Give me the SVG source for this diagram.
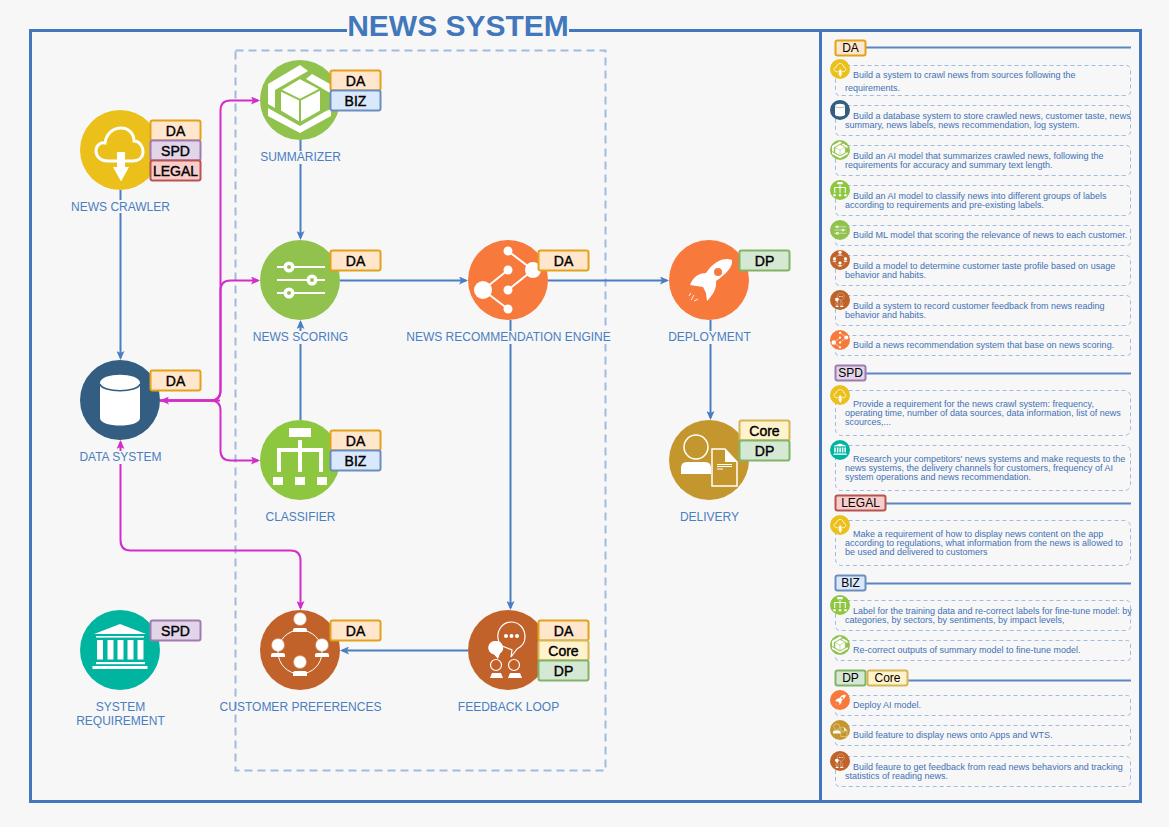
<svg xmlns="http://www.w3.org/2000/svg" width="1169" height="827" viewBox="0 0 1169 827">
<style>
text{font-family:"Liberation Sans",Arial,sans-serif}
.lb{font-size:12px;fill:#4A7EC2;text-anchor:middle}
.bg{fill:#F7F7F7}
.bt{font-size:14px;fill:#000;stroke:#000;stroke-width:.4;text-anchor:middle}
.ht{font-size:12px;fill:#000;text-anchor:middle}
.it{font-size:9px;fill:#4271B5}
.ib{fill:none;stroke:#A0BBE0;stroke-width:1;stroke-dasharray:4 3}
.hl{fill:none;stroke:#5B88C4;stroke-width:2}
.c{fill:none;stroke-width:2}
.bl{stroke:#4A7EC2}
.mg{stroke:#D42CC8}
.DA{fill:#FFE6CC;stroke:#E3A21A;stroke-width:2}
.SPD{fill:#E1D5E7;stroke:#9F7BB1;stroke-width:2}
.LEGAL{fill:#F8CECC;stroke:#B85450;stroke-width:2}
.BIZ{fill:#DAE8FC;stroke:#6C8EBF;stroke-width:2}
.DP{fill:#D5E8D4;stroke:#82B366;stroke-width:2}
.Core{fill:#FFF2CC;stroke:#D6B656;stroke-width:2}
.w{fill:#fff}
.s{fill:none;stroke:#fff}
</style>
<defs>
<marker id="ab" viewBox="0 0 9 8" refX="7" refY="4" markerWidth="9" markerHeight="8" markerUnits="userSpaceOnUse" orient="auto"><path d="M0 0L9 4L0 8L2 4Z" fill="#4A7EC2"/></marker>
<marker id="am" viewBox="0 0 9 8" refX="7" refY="4" markerWidth="9" markerHeight="8" markerUnits="userSpaceOnUse" orient="auto"><path d="M0 0L9 4L0 8L2 4Z" fill="#D42CC8"/></marker>
<g id="i-crawler"><circle r="40" fill="#EBC01B"/>
<path class="s" stroke-width="3" d="M-12 11C-20 11-24 6-24 1C-24-5-19-8-15-7C-14-16-7-22 1-22C9-22 14-16 14-9C20-9 23-3 23 2C23 8 18 11 12 11Z"/>
<path class="w" d="M-3 2H5V17H9L1 31.500L-7 17H-3Z"/></g>
<g id="i-data"><circle r="40" fill="#335D81"/>
<path class="w" d="M-20-17C-20-28 20-28 20-17V18C20 28-20 28-20 18Z"/>
<path fill="none" stroke="#335D81" stroke-width="1.500" d="M-20-16C-18-7 18-7 20-16"/></g>
<g id="i-req"><circle r="40" fill="#00B5A0"/>
<path class="w" d="M0-26L26-16H-26Z"/><rect class="w" x="-24" y="-14" width="48" height="1.600"/>
<rect class="w" x="-23" y="-10" width="6" height="19.500"/><rect class="w" x="-12.500" y="-10" width="6" height="19.500"/><rect class="w" x="-2.500" y="-10" width="6" height="19.500"/><rect class="w" x="7.500" y="-10" width="6" height="19.500"/><rect class="w" x="17.500" y="-10" width="6" height="19.500"/>
<rect class="w" x="-24" y="12" width="49" height="2.200"/><rect class="w" x="-27.500" y="16" width="55" height="3"/></g>
<g id="i-cube"><circle r="40" fill="#92C24E"/>
<path class="w" d="M-32-16L0-35L8-29L-25-10V8L-32 4Z"/>
<path class="w" d="M12-26L30-16V-7L6-21Z"/>
<path class="w" d="M-32 8L0 26L26 11L31 9V16L0 33L-32 16Z"/>
<path class="w" stroke="#92C24E" stroke-width="2" stroke-linejoin="round" d="M0-22L21-11V11L0 23L-20 11V-10Z"/>
<path fill="none" stroke="#92C24E" stroke-width="2" d="M-20-10L0 0L21-11M0 0V23"/></g>
<g id="i-score"><circle r="40" fill="#92C24E"/>
<path class="s" stroke-width="2" d="M-23-13H25M-23 0H25M-23 13H25"/>
<circle class="w" cx="-11" cy="-13" r="5.500"/><circle class="w" cx="12" cy="0" r="5.500"/><circle class="w" cx="-11" cy="13" r="5.500"/>
<circle fill="#92C24E" cx="-11" cy="-13" r="2"/><circle fill="#92C24E" cx="12" cy="0" r="2"/><circle fill="#92C24E" cx="-11" cy="13" r="2"/></g>
<g id="i-class"><circle r="40" fill="#8DC63F"/>
<rect class="w" x="-11" y="-32" width="22" height="9"/><rect class="w" x="-2" y="-20" width="4" height="32"/>
<path class="w" d="M-23 12V-12H23V12H19V-8H-19V12Z"/>
<rect class="w" x="-27" y="17" width="10" height="8"/><rect class="w" x="-5" y="17" width="10" height="8"/><rect class="w" x="17" y="17" width="10" height="8"/></g>
<g id="i-cust"><circle r="40" fill="#C0622A"/>
<circle class="s" cy="2" r="22" stroke-width="1"/>
<circle class="w" cx="0" cy="-31" r="6" stroke="#fff" stroke-opacity=".5" stroke-width="1.500"/><path class="w" d="M-7-18V-20Q-7-22-5-22H5Q7-22 7-20V-18Z"/>
<circle class="w" cx="-22" cy="-5" r="6" stroke="#fff" stroke-opacity=".5" stroke-width="1.500"/><path class="w" d="M-29 7V5Q-29 3-27 3H-17Q-15 3-15 5V7Z"/>
<circle class="w" cx="22" cy="-5" r="6" stroke="#fff" stroke-opacity=".5" stroke-width="1.500"/><path class="w" d="M15 7V5Q15 3 17 3H27Q29 3 29 5V7Z"/>
<circle class="w" cx="0" cy="12" r="6" stroke="#fff" stroke-opacity=".5" stroke-width="1.500"/><path class="w" d="M-7 26V23Q-7 21-5 21H5Q7 21 7 23V26Z"/></g>
<g id="i-feed"><circle r="40" fill="#C0622A"/>
<path class="s" stroke-width="1.200" d="M-9-8C-13-18-6-28 3-28C12-28 17-21 17-13C17-7 13-3 9-1L3 7L4 0L-6-4"/>
<circle class="w" cx="-2" cy="-14" r="2"/><circle class="w" cx="3.500" cy="-14" r="2"/><circle class="w" cx="9" cy="-14" r="2"/>
<path class="w" d="M-12-9A6.800 6.800 0 0 1-8 3.500L-10 9L-14 4.500A6.800 6.800 0 0 1-12-9Z"/>
<circle class="s" cx="-12" cy="15" r="5.500" stroke-width="1.200"/><circle class="s" cx="6" cy="15" r="5.500" stroke-width="1.200"/>
<path class="w" d="M-18 28L-16 23H-7L-5 28Z"/><path class="w" d="M0 28L2 23H12L14 28Z"/></g>
<g id="i-engine"><circle r="40" fill="#F7793C"/>
<path class="s" stroke-width="2" d="M0-29L25-10L0 10M-25 10L0-10M-25 10L0 29"/>
<circle class="w" cx="0" cy="-29" r="4.500"/><circle class="w" cx="25" cy="-10" r="8"/><circle class="w" cx="0" cy="-10" r="4.500"/><circle class="w" cx="0" cy="10" r="4.500"/><circle class="w" cx="-25" cy="10" r="9"/><circle class="w" cx="0" cy="29" r="4.500"/></g>
<g id="i-rocket"><circle r="40" fill="#F7793C"/>
<path class="w" d="M23-20C15-23 5-19-3-7C-10-7-16-3-19 5L-6 7L-3 13L-2 21C4 15 8 8 7 1C17-6 24-13 23-20Z"/>
<circle fill="#F7793C" cx="9" cy="-8" r="4"/>
<path class="s" stroke-width=".9" d="M-20 16L-18 13M-18 20L-15 15M-15 21L-11 19"/></g>
<g id="i-deliv"><circle r="40" fill="#C4962E"/>
<circle class="s" cx="-13" cy="-13" r="12" stroke-width="1.500"/>
<path class="w" d="M-28 14V8Q-28 2-22 2H-4Q2 2 2 8V14Z"/>
<path class="s" stroke-width="1.500" d="M3-11H16L28 2V26H3Z"/><path class="w" d="M16-11L28 2H16Z"/>
<path class="s" stroke-width="1" d="M8 4.500H23M8 6.500H23M8 9H14"/></g>
</defs>

<rect width="1169" height="827" class="bg"/>
<g id="frame">
<rect x="30.500" y="30.500" width="1110" height="771" fill="none" stroke="#4277BB" stroke-width="3"/>
<path d="M820.500 30V801" fill="none" stroke="#4277BB" stroke-width="3"/>
<rect x="347" y="25" width="222" height="10" class="bg"/>
<text x="458" y="36" font-size="30" font-weight="bold" fill="#4277BB" text-anchor="middle">NEWS SYSTEM</text>
<rect x="235.500" y="50.500" width="370" height="720" fill="none" stroke="#A0BBE0" stroke-width="2" stroke-dasharray="8 5"/>
</g>

<g id="connectors">
<path class="c bl" marker-end="url(#ab)" d="M120.500 190V358"/>
<path class="c bl" marker-end="url(#ab)" d="M300.500 140V238"/>
<path class="c bl" marker-end="url(#ab)" d="M300.500 420V322"/>
<path class="c bl" marker-end="url(#ab)" d="M340 280.500H466"/>
<path class="c bl" marker-end="url(#ab)" d="M548 280.500H667"/>
<path class="c bl" marker-end="url(#ab)" d="M710.500 320V418"/>
<path class="c bl" marker-end="url(#ab)" d="M510.500 320V608"/>
<path class="c bl" marker-end="url(#ab)" d="M468 650.500H342"/>
<path class="c mg" d="M160 400.500H210.500Q220.500 400.500 220.500 390.500V110.500Q220.500 100.500 230.500 100.500H258" marker-end="url(#am)"/>
<path class="c mg" d="M160 400.500H210.500Q220.500 400.500 220.500 390.500V290.500Q220.500 280.500 230.500 280.500H258" marker-end="url(#am)"/>
<path class="c mg" d="M160 400.500H210.500Q220.500 400.500 220.500 410.500V450.500Q220.500 460.500 230.500 460.500H258" marker-end="url(#am)"/>
<path class="c mg" d="M220 400.500H162" marker-end="url(#am)"/>
<path class="c mg" d="M120.500 540V442" marker-end="url(#am)"/>
<path class="c mg" d="M120.500 540Q120.500 550.500 130.500 550.500H290.500Q300.500 550.500 300.500 560.500V608" marker-end="url(#am)"/>
</g>

<g id="node-news-crawler"><use href="#i-crawler" x="120" y="150"/>
<rect class="DA" x="150.500" y="120.500" width="50" height="20" rx="2"/><text class="bt" x="175.500" y="135.500">DA</text>
<rect class="SPD" x="150.500" y="140.500" width="50" height="20" rx="2"/><text class="bt" x="175.500" y="155.500">SPD</text>
<rect class="LEGAL" x="150.500" y="160.500" width="50" height="20" rx="2"/><text class="bt" x="175.500" y="175.500">LEGAL</text>
<rect class="bg" x="72" y="200" width="97" height="13"/><text class="lb" x="120.500" y="211">NEWS CRAWLER</text></g>

<g id="node-data-system"><use href="#i-data" x="120" y="400"/>
<rect class="DA" x="150.500" y="370.500" width="50" height="20" rx="2"/><text class="bt" x="175.500" y="385.500">DA</text>
<rect class="bg" x="80" y="451" width="81" height="13"/><text class="lb" x="120.500" y="461">DATA SYSTEM</text></g>

<g id="node-system-requirement"><use href="#i-req" x="120" y="650"/>
<rect class="SPD" x="150.500" y="620.500" width="50" height="20" rx="2"/><text class="bt" x="175.500" y="635.500">SPD</text>
<text class="lb" x="120.500" y="711">SYSTEM</text><text class="lb" x="120.500" y="725">REQUIREMENT</text></g>

<g id="node-summarizer"><use href="#i-cube" x="300" y="100"/>
<rect class="DA" x="330.500" y="70.500" width="50" height="20" rx="2"/><text class="bt" x="355.500" y="85.500">DA</text>
<rect class="BIZ" x="330.500" y="90.500" width="50" height="20" rx="2"/><text class="bt" x="355.500" y="105.500">BIZ</text>
<rect class="bg" x="260" y="151" width="81" height="13"/><text class="lb" x="300.500" y="161">SUMMARIZER</text></g>

<g id="node-news-scoring"><use href="#i-score" x="300" y="280"/>
<rect class="DA" x="330.500" y="250.500" width="50" height="20" rx="2"/><text class="bt" x="355.500" y="265.500">DA</text>
<rect class="bg" x="253" y="331" width="96" height="13"/><text class="lb" x="300.500" y="341">NEWS SCORING</text></g>

<g id="node-classifier"><use href="#i-class" x="300" y="460"/>
<rect class="DA" x="330.500" y="430.500" width="50" height="20" rx="2"/><text class="bt" x="355.500" y="445.500">DA</text>
<rect class="BIZ" x="330.500" y="450.500" width="50" height="20" rx="2"/><text class="bt" x="355.500" y="465.500">BIZ</text>
<text class="lb" x="300.500" y="521">CLASSIFIER</text></g>

<g id="node-customer-preferences"><use href="#i-cust" x="300" y="650"/>
<rect class="DA" x="330.500" y="620.500" width="50" height="20" rx="2"/><text class="bt" x="355.500" y="635.500">DA</text>
<text class="lb" x="300.500" y="711">CUSTOMER PREFERENCES</text></g>

<g id="node-feedback-loop"><use href="#i-feed" x="508" y="650"/>
<rect class="DA" x="538.500" y="620.500" width="50" height="20" rx="2"/><text class="bt" x="563.500" y="635.500">DA</text>
<rect class="Core" x="538.500" y="640.500" width="50" height="20" rx="2"/><text class="bt" x="563.500" y="655.500">Core</text>
<rect class="DP" x="538.500" y="660.500" width="50" height="20" rx="2"/><text class="bt" x="563.500" y="675.500">DP</text>
<text class="lb" x="508.500" y="711">FEEDBACK LOOP</text></g>

<g id="node-engine"><use href="#i-engine" x="508" y="280"/>
<rect class="DA" x="538.500" y="250.500" width="50" height="20" rx="2"/><text class="bt" x="563.500" y="265.500">DA</text>
<rect class="bg" x="406" y="331" width="205" height="13"/><text class="lb" x="508.500" y="341">NEWS RECOMMENDATION ENGINE</text></g>

<g id="node-deployment"><use href="#i-rocket" x="709" y="280"/>
<rect class="DP" x="739.500" y="250.500" width="50" height="20" rx="2"/><text class="bt" x="764.500" y="265.500">DP</text>
<rect class="bg" x="668" y="331" width="83" height="13"/><text class="lb" x="709.500" y="341">DEPLOYMENT</text></g>

<g id="node-delivery"><use href="#i-deliv" x="709" y="460"/>
<rect class="Core" x="739.500" y="420.500" width="50" height="20" rx="2"/><text class="bt" x="764.500" y="435.500">Core</text>
<rect class="DP" x="739.500" y="440.500" width="50" height="20" rx="2"/><text class="bt" x="764.500" y="455.500">DP</text>
<text class="lb" x="709.500" y="521">DELIVERY</text></g>

<g id="legend">
<g id="h-da"><path class="hl" d="M866 47.500H1131"/><rect class="DA" x="835.500" y="40.500" width="30" height="15" rx="2"/><text class="ht" x="850.500" y="52">DA</text></g>
<g id="l1"><rect class="ib" x="835.500" y="65.500" width="295" height="30" rx="4"/><use href="#i-crawler" transform="translate(840,69) scale(.25)"/><text class="it"><tspan x="853" y="78">Build a system to crawl news from sources following the</tspan><tspan x="845" y="91">requirements.</tspan></text></g>
<g id="l2"><rect class="ib" x="835.500" y="105.500" width="295" height="30" rx="4"/><use href="#i-data" transform="translate(840,110) scale(.25)"/><text class="it"><tspan x="853" y="119">Build a database system to store crawled news, customer taste, news</tspan><tspan x="845" y="128">summary, news labels, news recommendation, log system.</tspan></text></g>
<g id="l3"><rect class="ib" x="835.500" y="145.500" width="295" height="30" rx="4"/><use href="#i-cube" transform="translate(840,150) scale(.25)"/><text class="it"><tspan x="853" y="159">Build an AI model that summarizes crawled news, following the</tspan><tspan x="845" y="168">requirements for accuracy and summary text length.</tspan></text></g>
<g id="l4"><rect class="ib" x="835.500" y="185.500" width="295" height="30" rx="4"/><use href="#i-class" transform="translate(840,190) scale(.25)"/><text class="it"><tspan x="853" y="199">Build an AI model to classify news into different groups of labels</tspan><tspan x="845" y="208">according to requirements and pre-existing labels.</tspan></text></g>
<g id="l5"><rect class="ib" x="835.500" y="225.500" width="295" height="20" rx="3"/><use href="#i-score" transform="translate(840,230) scale(.25)"/><text class="it" x="853" y="238">Build ML model that scoring the relevance of news to each customer.</text></g>
<g id="l6"><rect class="ib" x="835.500" y="255.500" width="295" height="30" rx="4"/><use href="#i-cust" transform="translate(840,260) scale(.25)"/><text class="it"><tspan x="853" y="269">Build a model to determine customer taste profile based on usage</tspan><tspan x="845" y="278">behavior and habits.</tspan></text></g>
<g id="l7"><rect class="ib" x="835.500" y="295.500" width="295" height="30" rx="4"/><use href="#i-feed" transform="translate(840,300) scale(.25)"/><text class="it"><tspan x="853" y="309">Build a system to record customer feedback from news reading</tspan><tspan x="845" y="318">behavior and habits.</tspan></text></g>
<g id="l8"><rect class="ib" x="835.500" y="335.500" width="295" height="20" rx="3"/><use href="#i-engine" transform="translate(840,340) scale(.25)"/><text class="it" x="853" y="348">Build a news recommendation system that base on news scoring.</text></g>

<g id="h-spd"><path class="hl" d="M866 373.500H1131"/><rect class="SPD" x="835.500" y="365.500" width="30" height="15" rx="2"/><text class="ht" x="850.500" y="377">SPD</text></g>
<g id="l9"><rect class="ib" x="835.500" y="390.500" width="295" height="45" rx="6"/><use href="#i-crawler" transform="translate(840,395) scale(.25)"/><text class="it"><tspan x="853" y="407">Provide a requirement for the news crawl system: frequency,</tspan><tspan x="845" y="416">operating time, number of data sources, data information, list of news</tspan><tspan x="845" y="425">scources,...</tspan></text></g>
<g id="l10"><rect class="ib" x="835.500" y="445.500" width="295" height="45" rx="6"/><use href="#i-req" transform="translate(840,450) scale(.25)"/><text class="it"><tspan x="853" y="462">Research your competitors' news systems and make requests to the</tspan><tspan x="845" y="471">news systems, the delivery channels for customers, frequency of AI</tspan><tspan x="845" y="480">system operations and news recommendation.</tspan></text></g>

<g id="h-legal"><path class="hl" d="M886 503.500H1131"/><rect class="LEGAL" x="835.500" y="495.500" width="50" height="15" rx="2"/><text class="ht" x="860.500" y="507">LEGAL</text></g>
<g id="l11"><rect class="ib" x="835.500" y="520.500" width="295" height="45" rx="6"/><use href="#i-crawler" transform="translate(840,525) scale(.25)"/><text class="it"><tspan x="853" y="537">Make a requirement of how to display news content on the app</tspan><tspan x="845" y="546">according to regulations, what information from the news is allowed to</tspan><tspan x="845" y="555">be used and delivered to customers</tspan></text></g>

<g id="h-biz"><path class="hl" d="M866 583.500H1131"/><rect class="BIZ" x="835.500" y="575.500" width="30" height="15" rx="2"/><text class="ht" x="850.500" y="587">BIZ</text></g>
<g id="l12"><rect class="ib" x="835.500" y="600.500" width="295" height="30" rx="4"/><use href="#i-class" transform="translate(840,605) scale(.25)"/><text class="it"><tspan x="853" y="614">Label for the training data and re-correct labels for fine-tune model: by</tspan><tspan x="845" y="623">categories, by sectors, by sentiments, by impact levels,</tspan></text></g>
<g id="l13"><rect class="ib" x="835.500" y="640.500" width="295" height="20" rx="3"/><use href="#i-cube" transform="translate(840,645) scale(.25)"/><text class="it" x="853" y="653">Re-correct outputs of summary model to fine-tune model.</text></g>

<g id="h-dp"><path class="hl" d="M908 680.500H1131"/><rect class="DP" x="835.500" y="670.500" width="30" height="15" rx="2"/><text class="ht" x="850.500" y="682">DP</text><rect class="Core" x="867.500" y="670.500" width="40" height="15" rx="2"/><text class="ht" x="887.500" y="682">Core</text></g>
<g id="l14"><rect class="ib" x="835.500" y="695.500" width="295" height="20" rx="3"/><use href="#i-rocket" transform="translate(840,700) scale(.25)"/><text class="it" x="853" y="708">Deploy AI model.</text></g>
<g id="l15"><rect class="ib" x="835.500" y="725.500" width="295" height="20" rx="3"/><use href="#i-deliv" transform="translate(840,730) scale(.25)"/><text class="it" x="853" y="738">Build feature to display news onto Apps and WTS.</text></g>
<g id="l16"><rect class="ib" x="835.500" y="756.500" width="295" height="30" rx="4"/><use href="#i-feed" transform="translate(840,761) scale(.25)"/><text class="it"><tspan x="853" y="770">Build feaure to get feedback from read news behaviors and tracking</tspan><tspan x="845" y="779">statistics of reading news.</tspan></text></g>
</g>
</svg>
